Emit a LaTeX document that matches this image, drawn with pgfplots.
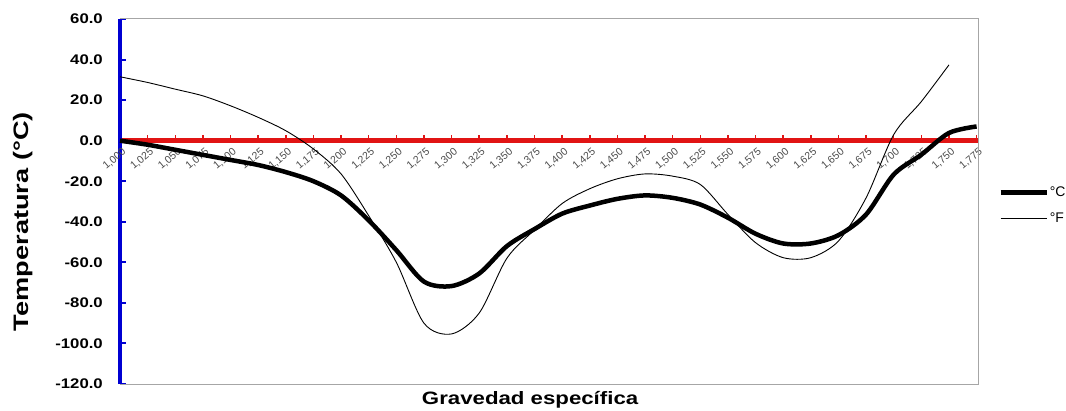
\documentclass[border=0pt]{standalone}
\usepackage{fontspec}
\setmainfont{Liberation Sans}
\usepackage{graphicx}
\usepackage{pgfplots}
\pgfplotsset{compat=1.18}
\newcommand\ys[1]{\scalebox{1.2}[1]{#1}}
\newcommand\xl[1]{\llap{#1}}
\definecolor{axblue}{RGB}{0,0,210}
\definecolor{axred}{RGB}{225,20,20}
\begin{document}
\begin{tikzpicture}
\useasboundingbox (-120bp,-27bp) rectangle (946bp,384bp);
\begin{axis}[
  at={(0,0)}, anchor=south west,
  scale only axis, width=858bp, height=365bp,
  xmin=0, xmax=31.05, ymin=-120, ymax=60,
  axis x line=middle, axis y line=left,
  hide obscured x ticks=false, hide obscured y ticks=false,
  x axis line style={-, axred, line width=4.5bp},
  y axis line style={-, axblue, line width=4.5bp},
  xtick={0,...,31},
  xticklabels={\xl{1,000},\xl{1,025},\xl{1,050},\xl{1,075},\xl{1,100},\xl{1,125},\xl{1,150},\xl{1,175},\xl{1,200},\xl{1,225},\xl{1,250},\xl{1,275},\xl{1,300},\xl{1,325},\xl{1,350},\xl{1,375},\xl{1,400},\xl{1,425},\xl{1,450},\xl{1,475},\xl{1,500},\xl{1,525},\xl{1,550},\xl{1,575},\xl{1,600},\xl{1,625},\xl{1,650},\xl{1,675},\xl{1,700},\xl{1,725},\xl{1,750},\xl{1,775}},
  ytick={-120,-100,-80,-60,-40,-20,0,20,40,60},
  yticklabels={\ys{-120.0},\ys{-100.0},\ys{-80.0},\ys{-60.0},\ys{-40.0},\ys{-20.0},\ys{0.0},\ys{20.0},\ys{40.0},\ys{60.0}},
  xtick align=inside, ytick align=inside,
  xtick style={axred, line width=1.5bp, /pgfplots/major tick length=6bp},
  ytick style={axblue, line width=2bp, /pgfplots/major tick length=6bp},
  xticklabel style={font=\fontsize{10.5}{10.5}\selectfont, text=black!70, rotate=40, anchor=north, inner sep=0pt, xshift=-3bp, yshift=-6bp},
  yticklabel style={font=\bfseries\fontsize{14}{14}\selectfont, anchor=east, inner sep=0pt, xshift=-17bp},
  xlabel={\scalebox{1.24}[1]{Gravedad específica}},
  xlabel style={font=\bfseries\fontsize{18}{18}\selectfont, at={(axis description cs:0.478,-0.044)}, anchor=center},
  ylabel={\scalebox{1.3}[1]{Temperatura (°C)}},
  ylabel style={font=\bfseries\fontsize{21}{21}\selectfont, at={(axis description cs:-0.113,0.445)}, anchor=center},
  legend style={at={(axis description cs:1.0235,0.489)}, anchor=west, draw=none, fill=none,
    font=\fontsize{14}{14}\selectfont, row sep=13bp, inner sep=0pt, nodes={inner sep=1bp}},
  legend cell align=left,
  legend image code/.code={\draw[#1] (0bp,0bp) -- (46bp,0bp);},
  clip=false,
]
\draw[black!35, line width=1bp] (rel axis cs:0,1) -- (rel axis cs:1,1) -- (rel axis cs:1,0) -- (rel axis cs:0,0);
\addplot[black, line width=4.5bp, smooth, tension=0.5] coordinates {
(0,0) (1,-2) (2,-4.5) (3,-7) (4,-9.5) (5,-12) (6,-15.5) (7,-20) (8,-27) (9,-39.3)
(10,-54) (11,-69.5) (12,-71.7) (13,-65.5) (14,-52) (15,-43.6) (16,-36) (17,-32) (18,-28.7) (19,-27)
(20,-28.2) (21,-31.5) (22,-38) (23,-45.9) (24,-50.7) (25,-50.7) (26,-46.6) (27,-36.4) (28,-16.7) (29,-6.9)
(30,3.8) (31,7)};
\addlegendentry{°C}
\addplot[black, line width=0.9bp, smooth, tension=0.5] coordinates {
(0,31.5) (1,28.7) (2,25.4) (3,22.1) (4,17.2) (5,11.5) (6,4.9) (7,-4.1) (8,-16.4) (9,-37)
(10,-60) (11,-90) (12,-95.3) (13,-85) (14,-58) (15,-44) (16,-31) (17,-23.7) (18,-18.8) (19,-16.4)
(20,-17.5) (21,-21.6) (22,-36.4) (23,-50.3) (24,-57.7) (25,-57.7) (26,-49.5) (27,-28.2) (28,3) (29,19.3)
(30,37.4)};
\addlegendentry{°F}
\end{axis}
\end{tikzpicture}
\end{document}
